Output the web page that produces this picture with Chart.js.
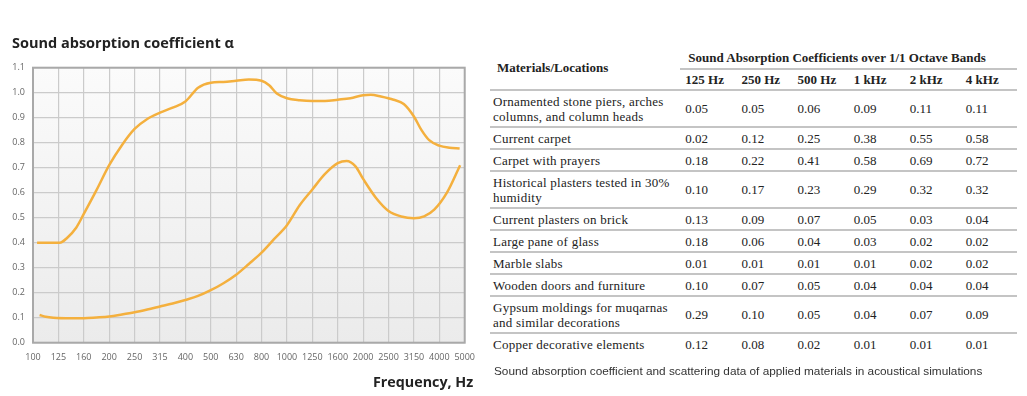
<!DOCTYPE html>
<html>
<head>
<meta charset="utf-8">
<script src="https://cdn.jsdelivr.net/npm/chart.js@4.4.0/dist/chart.umd.min.js"></script>
<style>
  body { margin: 0; background: #fff; width: 1027px; height: 396px; overflow: hidden; position: relative; }
  #chartBox { position: absolute; left: 0; top: 0; width: 484px; height: 396px; }
  #xTitle { position: absolute; left: 373px; top: 372px; font-family: 'Open Sans', sans-serif; font-weight: bold;
            font-size: 14.3px; color: #222; white-space: nowrap; line-height: 20px; }
  #tbl { position: absolute; left: 490px; top: 46px; width: 527px; border-collapse: collapse;
         font-family: 'Liberation Serif', 'DejaVu Serif', serif; font-size: 13px; color: #222; }
  #tbl td, #tbl th { padding: 0 0 0 5px; text-align: left; vertical-align: middle; line-height: 15px; }
  #tbl th { font-weight: bold; }
  #tbl td.mat { letter-spacing: 0.25px; padding-left: 3px; }
  #tbl tr.row td { border-bottom: 2px solid #c4c4c4; }
  #tbl tr.row:last-child td { border-bottom: none; }
  #caption { position: absolute; left: 494px; top: 364px; font-family: 'Liberation Sans', Arial, sans-serif;
             font-size: 11.8px; color: #333; white-space: nowrap; }
</style>
</head>
<body>
<div id="chartBox"><canvas id="absChart"></canvas></div>
<div id="xTitle">Frequency, Hz</div>
<table id="tbl"></table>
<div id="caption">Sound absorption coefficient and scattering data of applied materials in acoustical simulations</div>
<script>
// frequency tick labels (one per grid column)
const freqLabels = ['100','125','160','200','250','315','400','500','630','800','1000','1250','1600','2000','2500','3150','4000','5000'];

// curves: x = position in freqLabels (fractional), y = alpha
const upperX = [0.16, 0.6, 1.05, 1.35, 1.7, 2.0, 2.5, 3.0, 3.5, 4.0, 4.5, 5.0, 5.5, 6.0, 6.5, 7.0, 7.5, 8.0, 8.5, 9.0, 9.3, 9.6, 10.0, 10.5, 11.0, 11.5, 12.0, 12.5, 13.0, 13.3, 13.7, 14.2, 14.6, 15.0, 15.3, 15.6, 16.0, 16.4, 16.8];
const upperY = [0.40, 0.40, 0.40, 0.42, 0.46, 0.515, 0.61, 0.71, 0.79, 0.855, 0.895, 0.92, 0.94, 0.965, 1.02, 1.04, 1.043, 1.048, 1.053, 1.048, 1.03, 0.997, 0.978, 0.97, 0.967, 0.967, 0.972, 0.978, 0.99, 0.992, 0.985, 0.972, 0.955, 0.905, 0.85, 0.81, 0.788, 0.78, 0.777];

const lowerX = [0.26, 0.5, 0.8, 1.5, 2.0, 2.5, 3.0, 3.5, 4.0, 4.5, 5.0, 5.5, 6.0, 6.5, 7.0, 7.5, 8.0, 8.5, 9.0, 9.5, 10.0, 10.5, 11.0, 11.5, 12.0, 12.35, 12.7, 13.0, 13.5, 14.0, 14.5, 15.0, 15.4, 15.8, 16.3, 16.82];
const lowerY = [0.111, 0.104, 0.10, 0.098, 0.098, 0.101, 0.105, 0.113, 0.122, 0.133, 0.145, 0.157, 0.171, 0.187, 0.21, 0.238, 0.272, 0.315, 0.36, 0.415, 0.47, 0.55, 0.613, 0.675, 0.718, 0.727, 0.705, 0.655, 0.58, 0.527, 0.505, 0.498, 0.505, 0.532, 0.6, 0.71];

// table data
const bands = ['125 Hz', '250 Hz', '500 Hz', '1 kHz', '2 kHz', '4 kHz'];
const materials = [
  'Ornamented stone piers, arches columns, and column heads',
  'Current carpet',
  'Carpet with prayers',
  'Historical plasters tested in 30% humidity',
  'Current plasters on brick',
  'Large pane of glass',
  'Marble slabs',
  'Wooden doors and furniture',
  'Gypsum moldings for muqarnas and similar decorations',
  'Copper decorative elements'
];
const coeffs = [
  ['0.05', '0.05', '0.06', '0.09', '0.11', '0.11'],
  ['0.02', '0.12', '0.25', '0.38', '0.55', '0.58'],
  ['0.18', '0.22', '0.41', '0.58', '0.69', '0.72'],
  ['0.10', '0.17', '0.23', '0.29', '0.32', '0.32'],
  ['0.13', '0.09', '0.07', '0.05', '0.03', '0.04'],
  ['0.18', '0.06', '0.04', '0.03', '0.02', '0.02'],
  ['0.01', '0.01', '0.01', '0.01', '0.02', '0.02'],
  ['0.10', '0.07', '0.05', '0.04', '0.04', '0.04'],
  ['0.29', '0.10', '0.05', '0.04', '0.07', '0.09'],
  ['0.12', '0.08', '0.02', '0.01', '0.01', '0.01']
];
const twoLineRows = [0, 3, 8];

// build table
const tbl = document.getElementById('tbl');
let html = '<colgroup><col style="width:190px">' + bands.map(() => '<col style="width:56px">').join('') + '</colgroup>';
html += '<tr style="height:23px"><th rowspan="2" style="border-bottom:2px solid #c4c4c4;padding-left:7px">Materials/Locations</th>' +
        '<th colspan="6" style="border-bottom:2px solid #c4c4c4;padding-left:8px">Sound Absorption Coefficients over 1/1 Octave Bands</th></tr>';
html += '<tr style="height:21px">' + bands.map(b => '<th style="border-bottom:2px solid #c4c4c4">' + b + '</th>').join('') + '</tr>';
materials.forEach((m, i) => {
  const h = twoLineRows.includes(i) ? 37 : 22;
  html += '<tr class="row" style="height:' + h + 'px"><td class="mat">' + m + '</td>' +
          coeffs[i].map(v => '<td>' + v + '</td>').join('') + '</tr>';
});
tbl.innerHTML = html;

// plot background + frame
const plotFrame = {
  id: 'plotFrame',
  beforeDraw(chart) {
    const { ctx, chartArea: a } = chart;
    const g = ctx.createLinearGradient(0, a.top, 0, a.bottom);
    g.addColorStop(0, '#fbfbfb');
    g.addColorStop(1, '#ebebeb');
    ctx.save();
    ctx.fillStyle = g;
    ctx.fillRect(a.left, a.top, a.right - a.left, a.bottom - a.top);
    ctx.restore();
  },
  afterDatasetsDraw(chart) {
    const { ctx, chartArea: a } = chart;
    ctx.save();
    ctx.strokeStyle = '#a9a9a9';
    ctx.lineWidth = 2;
    ctx.strokeRect(a.left, a.top, a.right - a.left, a.bottom - a.top);
    ctx.restore();
  }
};

const toPts = (xs, ys) => xs.map((x, i) => ({ x: x, y: ys[i] }));
const lineColor = '#f4b03e';
const tickFont = { family: "'Open Sans', sans-serif", size: 9 };

new Chart(document.getElementById('absChart'), {
  type: 'line',
  data: {
    datasets: [
      { data: toPts(upperX, upperY), borderColor: lineColor, borderWidth: 2.5, pointRadius: 0, cubicInterpolationMode: 'monotone' },
      { data: toPts(lowerX, lowerY), borderColor: lineColor, borderWidth: 2.5, pointRadius: 0, cubicInterpolationMode: 'monotone' }
    ]
  },
  options: {
    responsive: true,
    maintainAspectRatio: false,
    animation: false,
    layout: { padding: { left: 12, right: 0, bottom: 24.5 } },
    plugins: {
      legend: { display: false },
      tooltip: { enabled: false },
      title: {
        display: true,
        text: 'Sound absorption coefficient α',
        align: 'start',
        color: '#222',
        font: { family: "'Open Sans', sans-serif", size: 14.5, weight: 'bold' },
        padding: { top: 35, bottom: 15.3 }
      }
    },
    scales: {
      x: {
        type: 'linear',
        min: 0,
        max: freqLabels.length - 1,
        ticks: {
          stepSize: 1,
          autoSkip: false,
          maxRotation: 0,
          padding: 9,
          color: '#666',
          font: tickFont,
          callback: v => freqLabels[v]
        },
        grid: { color: '#cbcbcb', lineWidth: 1.2, drawTicks: false },
        border: { display: false }
      },
      y: {
        min: 0,
        max: 1.1,
        afterFit: s => { s.width = 21; },
        ticks: {
          stepSize: 0.1,
          padding: 8,
          color: '#666',
          font: tickFont,
          callback: v => v.toFixed(1)
        },
        grid: { color: '#cbcbcb', lineWidth: 1.2, drawTicks: false },
        border: { display: false }
      }
    }
  },
  plugins: [plotFrame]
});
</script>
</body>
</html>
